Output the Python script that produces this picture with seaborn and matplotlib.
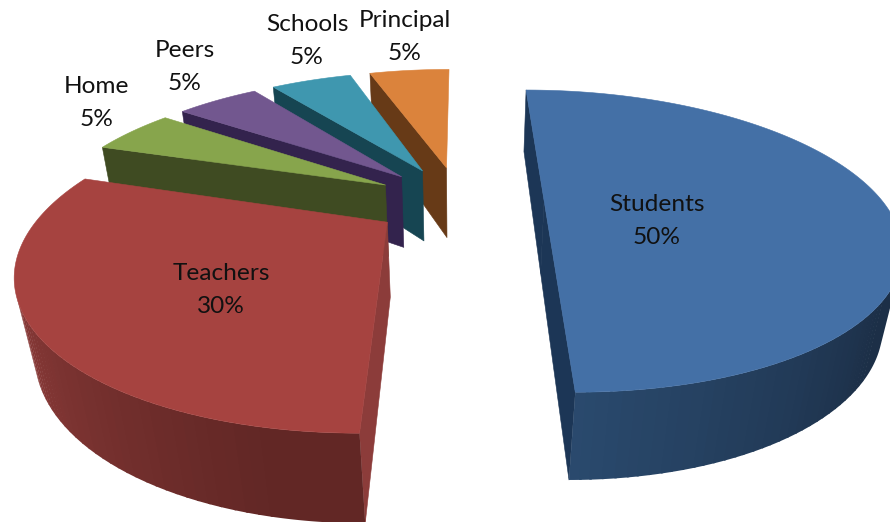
import numpy as np
import matplotlib
matplotlib.use("Agg")
import matplotlib.pyplot as plt
import seaborn as sns

# Share of each group, clockwise from twelve o'clock
groups = ["Students", "Teachers", "Home", "Peers", "Schools", "Principal"]
shares = [50, 30, 5, 5, 5, 5]

# Surface colours per group
top_colours = ["#4470A6", "#A64340", "#87A54C", "#72578F", "#3F97AF", "#DB833C"]
cut_colours = ["#1C3656", "#8C3C3A", "#3F4B22", "#33234D", "#164552", "#673A17"]
rim_light = ["#2A4A6E", "#8E3C3A", "#4E5F2C", "#41305F", "#1E5A6B", "#84491D"]
rim_dark = ["#1C2F47", "#622725", "#3F4B22", "#33234D", "#164552", "#673A17"]

# Rim shading runs from dark to light over these clockwise angles
rim_shade_span = {"Students": (125, 180), "Teachers": (190, 250)}

# Where each label block is centred, in figure pixels
label_xy = {
    "Students": (657, 221),
    "Teachers": (221, 290),
    "Home": (97, 103),
    "Peers": (185, 67),
    "Schools": (307, 41),
    "Principal": (405, 37),
}

# Camera and solid
ELEV = np.radians(30)
FOCAL = 1010.0
CX, CY = 459.0, 261.0
DIST = 3.34
Z_TOP, Z_BASE = 0.223, -0.048
STRETCH_X = 1.08
EXPLODE = 0.272
BANDS = 36


def project(x, y, z):
    x, y, z = np.asarray(x, float), np.asarray(y, float), np.asarray(z, float)
    depth = DIST + y * np.cos(ELEV) - z * np.sin(ELEV)
    up = y * np.sin(ELEV) + z * np.cos(ELEV)
    return np.column_stack([CX + FOCAL * x / depth, CY - FOCAL * up / depth])


CAMERA = np.array([0.0, -DIST * np.cos(ELEV), DIST * np.sin(ELEV)])


def faces_camera(point_xy, normal_xy, margin=0.0):
    return (CAMERA[0] - point_xy[0]) * normal_xy[0] + (CAMERA[1] - point_xy[1]) * normal_xy[1] > margin


sns.set_theme(style="white")
plt.rcParams["font.family"] = ["Lato", "DejaVu Sans"]

fig = plt.figure(figsize=(8.9, 5.22), dpi=100, facecolor="white")
ax = fig.add_axes([0, 0, 1, 1])
ax.set_xlim(0, 890)
ax.set_ylim(522, 0)
ax.axis("off")


def paint(points, colour, z):
    ax.fill(points[:, 0], points[:, 1], facecolor=colour, edgecolor=colour,
            linewidth=0.4, zorder=z, joinstyle="round")


values = np.array(shares, float)
stops = np.concatenate([[0], np.cumsum(values) / values.sum() * 360])

slices = []
for i, name in enumerate(groups):
    t0, t1 = stops[i], stops[i + 1]
    mid = np.radians((t0 + t1) / 2)
    ox, oy = EXPLODE * np.sin(mid), EXPLODE / STRETCH_X * np.cos(mid)
    slices.append((oy, i, name, t0, t1, ox))

# Paint the slices from the back of the pie to the front
layer = 1
for oy, i, name, t0, t1, ox in sorted(slices, key=lambda s: -s[0]):
    angles = np.linspace(t0, t1, max(8, int((t1 - t0) * 3)))
    rad = np.radians(angles)
    rim_x = ox + STRETCH_X * np.sin(rad)
    rim_y = oy + np.cos(rad)

    # Straight cut faces; ones seen almost edge-on are left out
    for t, sign in ((t0, 1), (t1, -1)):
        a = np.radians(t)
        nx, ny = -sign * np.cos(a), sign * STRETCH_X * np.sin(a)
        if faces_camera((ox, oy), (nx, ny), margin=0.1):
            ex, ey = ox + STRETCH_X * np.sin(a), oy + np.cos(a)
            quad = project([ox, ex, ex, ox], [oy, ey, ey, oy],
                           [Z_TOP, Z_TOP, Z_BASE, Z_BASE])
            paint(quad, cut_colours[i], layer)
    layer += 1

    # Curved outer wall: each shading band is one polygon, and the bands
    # overlap so no seams show between them
    low, high = rim_shade_span.get(name, (t0, t1))
    ramp = sns.blend_palette([rim_dark[i], rim_light[i]], BANDS)
    mids = (rad[:-1] + rad[1:]) / 2
    visible = faces_camera((ox + STRETCH_X * np.sin(mids), oy + np.cos(mids)),
                           (np.sin(mids), STRETCH_X * np.cos(mids)))
    frac = np.clip((np.degrees(mids) - low) / (high - low), 0, 1)
    band = (frac * (BANDS - 1)).astype(int)
    for b in np.unique(band[visible]) if visible.any() else []:
        idx = np.where(visible & (band == b))[0]
        first, last = idx[0], min(idx[-1] + 2, len(rad) - 1)
        seg_x = rim_x[first:last + 1]
        seg_y = rim_y[first:last + 1]
        wall_x = np.concatenate([seg_x, seg_x[::-1]])
        wall_y = np.concatenate([seg_y, seg_y[::-1]])
        wall_z = np.concatenate([np.full_like(seg_x, Z_TOP), np.full_like(seg_x, Z_BASE)])
        ax.fill(*project(wall_x, wall_y, wall_z).T, facecolor=ramp[b], edgecolor="none",
                zorder=layer + (BANDS - b) / (BANDS + 1) * 0.5)
    layer += 1

    # Top surface
    tx = np.concatenate([[ox], rim_x])
    ty = np.concatenate([[oy], rim_y])
    paint(project(tx, ty, np.full_like(tx, Z_TOP)), top_colours[i], layer)
    layer += 1

for name, share in zip(groups, shares):
    x, y = label_xy[name]
    ax.text(x, y, f"{name}\n{share}%", ha="center", va="center", fontsize=17.6,
            color="#111111", linespacing=1.65, zorder=layer)

fig.savefig("out.png", dpi=100)
